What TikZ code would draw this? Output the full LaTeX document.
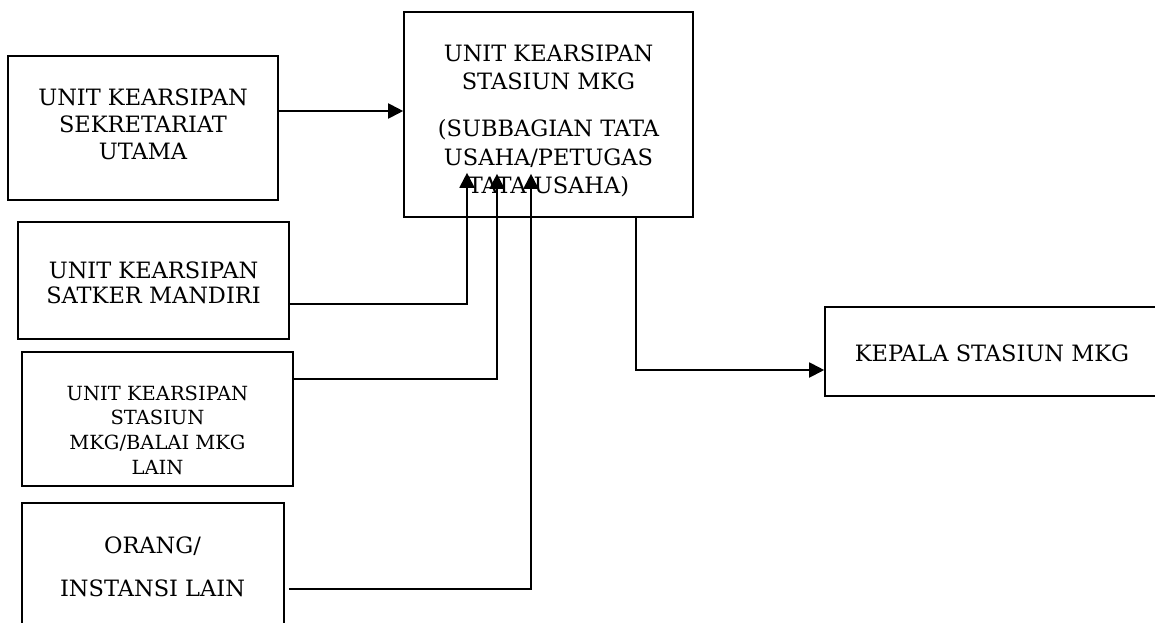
\documentclass[tikz,border=0pt]{standalone}
\usepackage{fontspec}
\setmainfont{DejaVu Serif}
\usetikzlibrary{arrows.meta,calc}
\tikzset{
  box/.style={draw, line width=1.6pt, inner sep=0pt},
  lbl/.style={align=center, inner sep=0pt, font=\fontsize{22.5}{27}\selectfont},
  lblsmall/.style={align=center, inner sep=0pt, font=\fontsize{19.5}{24.7}\selectfont},
  conn/.style={line width=1.9pt},
  arr/.style={conn, -{Triangle[length=15pt,width=15pt]}}
}
\begin{document}
\begin{tikzpicture}[x=1pt,y=-1pt]
\useasboundingbox (0,0) rectangle (1155,622);
% boxes
\node[box, minimum width=270pt, minimum height=144pt] (A) at (143,128) {};
\node[box, minimum width=289pt, minimum height=205pt] (M) at (548.5,114.5) {};
\node[box, minimum width=271pt, minimum height=117pt] (B) at (153.5,280.5) {};
\node[box, minimum width=271pt, minimum height=134pt] (C) at (157.5,419) {};
\node[box, minimum width=262pt, minimum height=130pt] (D) at (153,568) {};
\node[box, minimum width=334pt, minimum height=89pt] (E) at (992,351.5) {};
% texts
\node[lbl] (tA) at (143,124) {UNIT KEARSIPAN\\SEKRETARIAT\\UTAMA};
\node[lbl, font=\fontsize{22.5}{28.5}\selectfont] (tM1) at (548.5,67.5) {UNIT KEARSIPAN\\STASIUN MKG};
\node[lbl, font=\fontsize{22.5}{28.5}\selectfont] (tM2) at (548.5,158.5) {(SUBBAGIAN TATA\\USAHA/PETUGAS\\TATA USAHA)};
\node[lbl, font=\fontsize{22.5}{25}\selectfont] (tB) at (153.5,283) {UNIT KEARSIPAN\\SATKER MANDIRI};
\node[lblsmall] (tC) at (157.5,430) {UNIT KEARSIPAN\\STASIUN\\MKG/BALAI MKG\\LAIN};
\node[lbl, font=\fontsize{22.5}{43}\selectfont] (tD) at (152.5,567) {ORANG/\\INSTANSI LAIN};
\node[lbl] (tE) at (992,353) {KEPALA STASIUN MKG};
% connectors
\draw[arr] (A.east |- 0,111) -- (M.west |- 0,111);
\draw[arr] (B.east |- 0,304) -| ($(M.south -| 467,0)+(0,-45)$);
\draw[arr] (C.east |- 0,379) -| ($(M.south -| 497,0)+(0,-44)$);
\draw[arr] ($(D.east |- 0,589)+(4,0)$) -| ($(M.south -| 531,0)+(0,-44)$);
\draw[arr] (M.south -| 636,0) |- (E.west |- 0,370);
\end{tikzpicture}
\end{document}
